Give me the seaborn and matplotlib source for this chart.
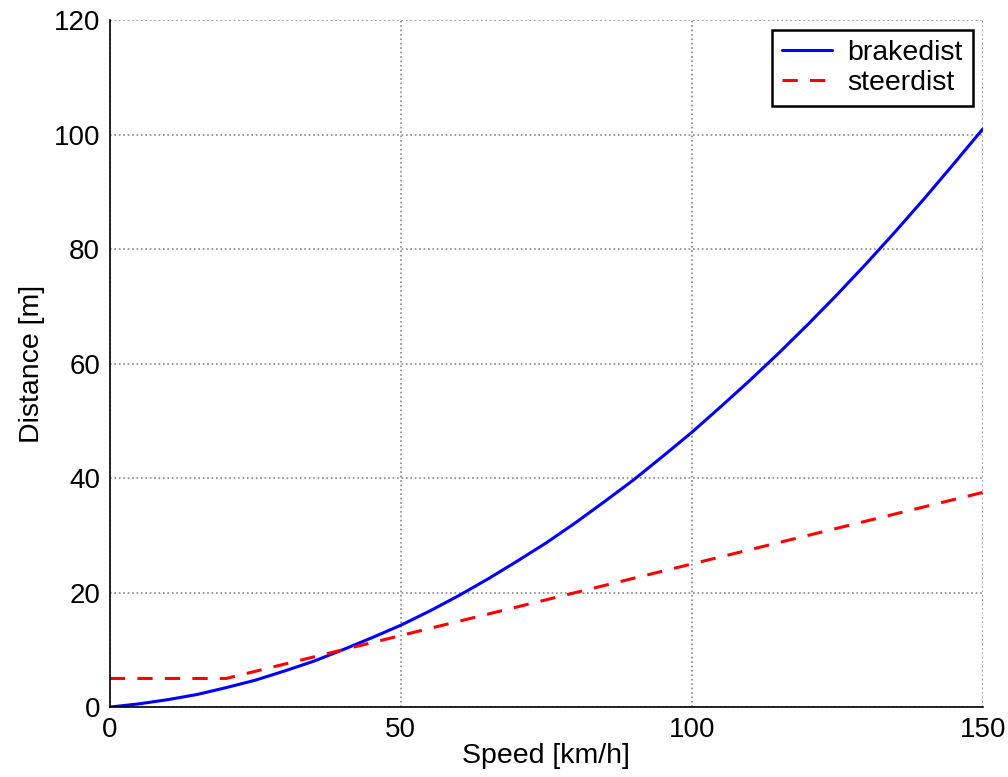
import matplotlib
matplotlib.use("Agg")
import matplotlib.pyplot as plt
import seaborn as sns
import pandas as pd

speed = [0, 5, 10, 15, 20, 25, 30, 35, 40, 45, 50, 55, 60, 65, 70, 75, 80, 85, 90, 95,
         100, 105, 110, 115, 120, 125, 130, 135, 140, 145, 150]
brakedist = [0, 0.56, 1.3, 2.2, 3.4, 4.7, 6.3, 8.0, 10.0, 12.1, 14.3, 16.8, 19.5, 22.4, 25.5,
             28.7, 32.2, 35.9, 39.7, 43.8, 48.0, 52.5, 57.1, 61.9, 66.9, 72.1, 77.5, 83.1,
             88.9, 94.9, 101.0]
steerdist = [5, 5, 5, 5, 5, 6.25, 7.5, 8.75, 10, 11.25, 12.5, 13.75, 15, 16.25, 17.5, 18.75,
             20, 21.25, 22.5, 23.75, 25, 26.25, 27.5, 28.75, 30, 31.25, 32.5, 33.75, 35,
             36.25, 37.5]
x_ticks = [0, 50, 100, 150]
y_ticks = [0, 20, 40, 60, 80, 100, 120]

sns.set_style("white")
plt.rcParams['font.family'] = ['Liberation Sans', 'DejaVu Sans']
plt.rcParams['text.color'] = 'black'
plt.rcParams['axes.labelcolor'] = 'black'

fig = plt.figure(figsize=(10.08, 7.77), dpi=100)
ax = fig.add_axes([0.109, 0.090, 0.866, 0.884])

df = pd.DataFrame({"speed": speed, "brakedist": brakedist, "steerdist": steerdist})
sns.lineplot(data=df, x="speed", y="brakedist", ax=ax, color="#0000ff", lw=2.2, label="brakedist")
sns.lineplot(data=df, x="speed", y="steerdist", ax=ax, color="#ff0000", lw=2.2,
             linestyle=(0, (5, 4)), label="steerdist")

ax.set_xlim(0, 150)
ax.set_ylim(0, 120)
ax.set_xticks(x_ticks)
ax.set_yticks(y_ticks)
ax.grid(True, linestyle=":", color="#888888", lw=1.2)
for s in ["top", "right"]:
    ax.spines[s].set_visible(False)
for s in ["left", "bottom"]:
    ax.spines[s].set_color("black")
    ax.spines[s].set_linewidth(1.2)
ax.tick_params(direction="in", length=6, width=1.0, labelsize=20, colors="black", pad=7)
ax.set_xlabel("Speed [km/h]", fontsize=20.5, labelpad=0)
ax.set_ylabel("Distance [m]", fontsize=20.5, labelpad=6)

leg = ax.legend(loc="upper right", fontsize=20.5, fancybox=False, framealpha=1,
                edgecolor="black", borderaxespad=0.35, handlelength=1.75,
                handletextpad=0.56, borderpad=0.35, labelspacing=0.12)
leg.get_frame().set_linewidth(1.8)

fig.savefig("out.png", dpi=100)
